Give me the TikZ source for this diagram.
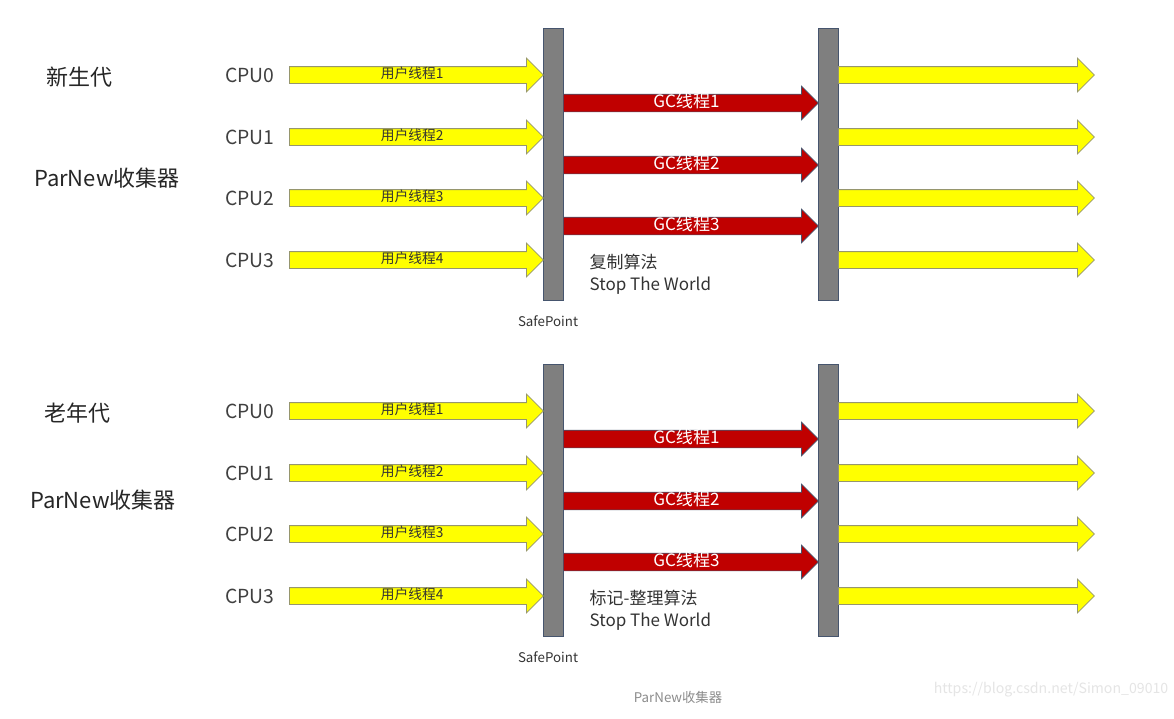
\documentclass[tikz,border=0pt]{standalone}
\usepackage{fontspec}
\setmainfont{Noto Sans CJK SC}
\usetikzlibrary{shapes.arrows}
\definecolor{userfill}{RGB}{255,255,0}
\definecolor{userline}{RGB}{150,150,110}
\definecolor{gcfill}{RGB}{192,0,0}
\definecolor{barfill}{RGB}{127,127,127}
\definecolor{barline}{RGB}{70,85,110}
\definecolor{labeltext}{RGB}{64,64,64}
\tikzset{
  userarrow/.style={single arrow, fill=userfill, draw=userline, line width=0.6pt,
    anchor=tail, minimum height=190.5pt, single arrow head extend=6.4pt,
    inner ysep=0pt, text height=8.5pt, text depth=3.5pt,
    font=\fontsize{10.3}{10.3}\selectfont, text=black!80},
  gcarrow/.style={single arrow, fill=gcfill, draw=barline, line width=0.5pt,
    anchor=tail, minimum height=191.25pt, single arrow head extend=6pt,
    inner ysep=0pt, text height=9.5pt, text depth=3.25pt,
    font=\fontsize{12.8}{12.8}\selectfont, text=white},
  runarrow/.style={userarrow, minimum height=192pt},
  safebar/.style={rectangle, fill=barfill, draw=barline, line width=0.6pt,
    minimum width=15pt, minimum height=204pt, inner sep=0pt},
  cpu/.style={anchor=east, font=\fontsize{14.5}{14.5}\selectfont, text=labeltext},
  title/.style={font=\fontsize{16.5}{16.5}\selectfont, text=black!85},
  note/.style={anchor=north west, align=left, font=\fontsize{12.75}{16.5}\selectfont, text=black!80},
  small/.style={font=\fontsize{10}{10}\selectfont, text=black!80}
}
\begin{document}
\begin{tikzpicture}[x=0.75pt,y=-0.75pt]
  \useasboundingbox[fill=white] (0,0) rectangle (1174,718);
  % young generation
  \node[title]  (young)   at (79,77)   {新生代};
  \node[title]  (parA)    at (107,178) {ParNew收集器};
  \node[safebar] (spA)    at (553,164) {};
  \node[safebar] (endA)   at (828,164) {};
  \node[cpu]    (cpuA0)   at (279,75)  {CPU0};
  \node[cpu]    (cpuA1)   at (279,137) {CPU1};
  \node[cpu]    (cpuA2)   at (279,198) {CPU2};
  \node[cpu]    (cpuA3)   at (279,260) {CPU3};
  \node[userarrow] (uA0)  at (289,75)  {用户线程1};
  \node[userarrow] (uA1)  at (289,137) {用户线程2};
  \node[userarrow] (uA2)  at (289,198) {用户线程3};
  \node[userarrow] (uA3)  at (289,260) {用户线程4};
  \node[gcarrow]   (gA1)  at (563,103) {GC线程1};
  \node[gcarrow]   (gA2)  at (563,165) {GC线程2};
  \node[gcarrow]   (gA3)  at (563,226) {GC线程3};
  \node[runarrow]  (rA0)  at (838,75)  {};
  \node[runarrow]  (rA1)  at (838,137) {};
  \node[runarrow]  (rA2)  at (838,198) {};
  \node[runarrow]  (rA3)  at (838,260) {};
  \node[note]   (algoA)   at (585,249) {复制算法\\Stop The World};
  \node[small]  (safeA)   at (548,321) {SafePoint};
  % old generation
  \node[title]  (old)     at (77,413)  {老年代};
  \node[title]  (parB)    at (103,500) {ParNew收集器};
  \node[safebar] (spB)    at (553,500) {};
  \node[safebar] (endB)   at (828,500) {};
  \node[cpu]    (cpuB0)   at (279,411) {CPU0};
  \node[cpu]    (cpuB1)   at (279,473) {CPU1};
  \node[cpu]    (cpuB2)   at (279,534) {CPU2};
  \node[cpu]    (cpuB3)   at (279,596) {CPU3};
  \node[userarrow] (uB0)  at (289,411) {用户线程1};
  \node[userarrow] (uB1)  at (289,473) {用户线程2};
  \node[userarrow] (uB2)  at (289,534) {用户线程3};
  \node[userarrow] (uB3)  at (289,596) {用户线程4};
  \node[gcarrow]   (gB1)  at (563,439) {GC线程1};
  \node[gcarrow]   (gB2)  at (563,501) {GC线程2};
  \node[gcarrow]   (gB3)  at (563,562) {GC线程3};
  \node[runarrow]  (rB0)  at (838,411) {};
  \node[runarrow]  (rB1)  at (838,473) {};
  \node[runarrow]  (rB2)  at (838,534) {};
  \node[runarrow]  (rB3)  at (838,596) {};
  \node[note]   (algoB)   at (585,585) {标记-整理算法\\Stop The World};
  \node[small]  (safeB)   at (548,657) {SafePoint};
  % caption and watermark
  \node[small, text=black!45] (caption) at (678,697) {ParNew收集器};
  \node[anchor=east, font=\fontsize{10.6}{10.6}\selectfont, text=black!10] (mark) at (1173,690) {https://blog.csdn.net/Simon\_09010};
\end{tikzpicture}
\end{document}
